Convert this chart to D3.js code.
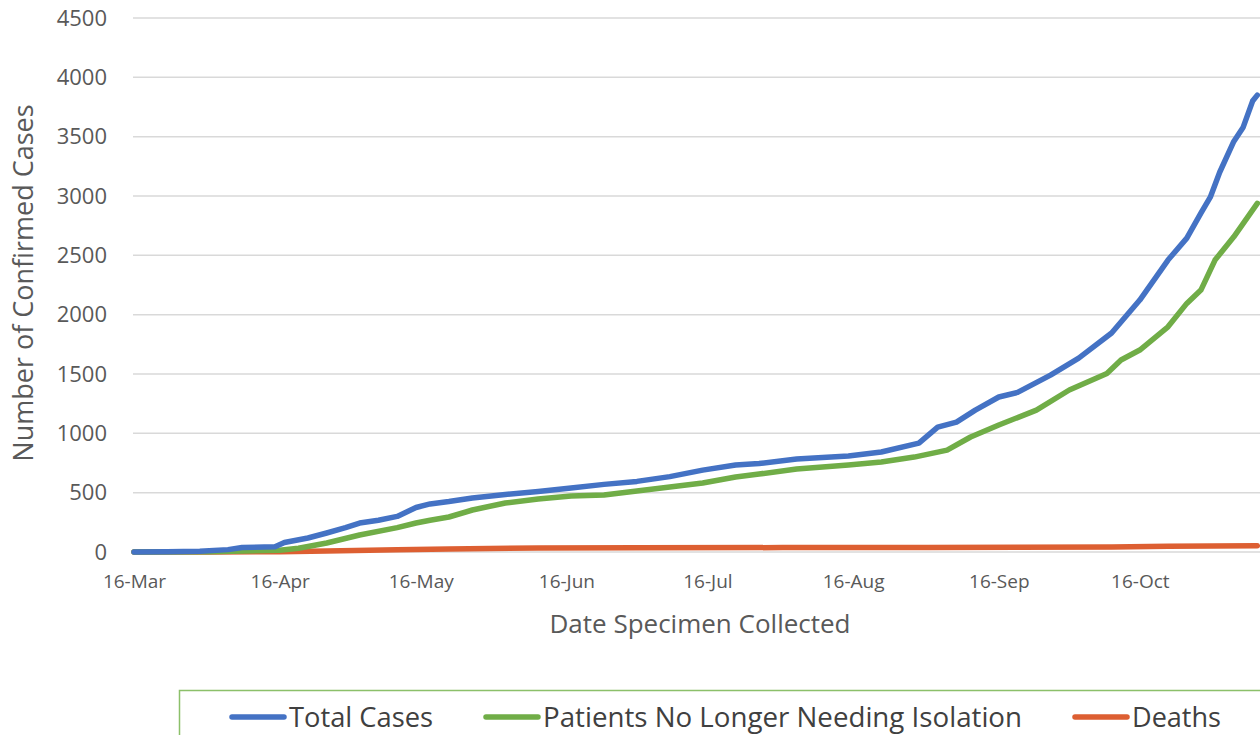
<!DOCTYPE html>
<html lang="en">
  <head>
    <meta charset="UTF-8" />
    <title>Confirmed Cases</title>
    <style>
      body { margin: 0; background: #fff; }
      svg { display: block; overflow: hidden; }
      text { font-family: "Open Sans", "Noto Sans", sans-serif; fill: #595959; }
      .grid line { stroke: #d9d9d9; stroke-width: 1.5px; }
      .series { fill: none; stroke-width: 5.5px; stroke-linejoin: round; stroke-linecap: round; }
    </style>
  </head>
  <body>
    <svg></svg>
    <script src="https://cdnjs.cloudflare.com/ajax/libs/d3/7.8.5/d3.min.js"></script>
    <script>
      // values
      const totalDates = ["2020-03-16","2020-03-23","2020-03-30","2020-04-05","2020-04-08","2020-04-15","2020-04-17","2020-04-22","2020-04-26","2020-04-30","2020-05-03","2020-05-07","2020-05-11","2020-05-15","2020-05-18","2020-05-22","2020-05-27","2020-06-03","2020-06-10","2020-06-17","2020-06-24","2020-07-01","2020-07-08","2020-07-15","2020-07-22","2020-07-27","2020-08-04","2020-08-15","2020-08-22","2020-08-30","2020-09-03","2020-09-07","2020-09-11","2020-09-16","2020-09-20","2020-09-27","2020-10-03","2020-10-10","2020-10-16","2020-10-22","2020-10-26","2020-10-29","2020-10-31","2020-11-02","2020-11-05","2020-11-07","2020-11-09","2020-11-10"];
      const totalCases = [0,2,6,20,38,45,80,118,160,205,244,268,300,375,405,425,455,485,510,540,570,595,635,690,733,745,783,809,843,918,1053,1095,1196,1306,1345,1491,1634,1845,2123,2460,2645,2856,2990,3200,3460,3580,3800,3850];

      const releasedDates = ["2020-03-16","2020-04-01","2020-04-16","2020-04-20","2020-04-26","2020-05-03","2020-05-11","2020-05-15","2020-05-18","2020-05-22","2020-05-27","2020-06-03","2020-06-10","2020-06-17","2020-06-24","2020-07-01","2020-07-08","2020-07-15","2020-07-22","2020-07-27","2020-08-04","2020-08-15","2020-08-22","2020-08-29","2020-09-05","2020-09-10","2020-09-16","2020-09-24","2020-10-01","2020-10-09","2020-10-12","2020-10-16","2020-10-22","2020-10-26","2020-10-29","2020-11-01","2020-11-05","2020-11-10"];
      const releasedCases = [0,2,15,32,76,143,205,244,268,295,354,413,447,472,480,514,548,581,632,657,699,733,758,800,859,969,1070,1196,1365,1505,1618,1702,1898,2095,2207,2460,2656,2938];

      const deathDates = ["2020-03-16","2020-04-01","2020-04-16","2020-04-26","2020-05-11","2020-05-22","2020-06-10","2020-07-01","2020-08-01","2020-09-01","2020-09-20","2020-10-10","2020-10-22","2020-11-10"];
      const deaths = [0,1,3,8,20,26,34,36,37,37,40,43,48,52];

      const yTicks = [0,500,1000,1500,2000,2500,3000,3500,4000,4500];
      const xTicks = ["2020-03-16","2020-04-16","2020-05-16","2020-06-16","2020-07-16","2020-08-16","2020-09-16","2020-10-16"];
      const legendNames = ["Total Cases","Patients No Longer Needing Isolation","Deaths"];
      const colors = ["#4472c4","#70ad47","#dd5f32"];

      const parse = d3.timeParse("%Y-%m-%d");
      const W = 1260, H = 735;
      const svg = d3.select("svg").attr("width", W).attr("height", H);

      // plot is wider than the window, the right side is cut off like the picture
      const start = parse("2020-03-16"), end = parse("2020-11-16");
      const x = d3.scaleTime().domain([start, end]).range([134, 134 + 4.7 * 245]);
      const y = d3.scaleLinear().domain([0, 4500]).range([552, 18]);

      svg.append("g")
        .attr("class", "grid")
        .selectAll("line")
        .data(yTicks)
        .join("line")
        .attr("x1", 133).attr("x2", 1300)
        .attr("y1", d => y(d)).attr("y2", d => y(d));

      const yAxis = svg.append("g")
        .attr("transform", "translate(133,0)")
        .call(d3.axisLeft(y).tickValues(yTicks).tickFormat(d3.format("d")).tickSize(0).tickPadding(26));
      yAxis.select(".domain").remove();
      yAxis.selectAll("text").style("font-size", "22px").style("fill", "#595959");

      const xAxis = svg.append("g")
        .attr("transform", "translate(0,552)")
        .call(d3.axisBottom(x).tickValues(xTicks.map(parse)).tickFormat(d3.timeFormat("%d-%b")).tickSize(0).tickPadding(23));
      xAxis.select(".domain").remove();
      xAxis.selectAll("text").style("font-size", "19px").style("fill", "#595959");

      svg.append("text")
        .attr("transform", "translate(33,283) rotate(-90)")
        .attr("text-anchor", "middle")
        .style("font-size", "27px")
        .text("Number of Confirmed Cases");

      svg.append("text")
        .attr("x", 700).attr("y", 633)
        .attr("text-anchor", "middle")
        .style("font-size", "26px")
        .text("Date Specimen Collected");

      const series = [
        { dates: deathDates, values: deaths, color: colors[2] },
        { dates: releasedDates, values: releasedCases, color: colors[1] },
        { dates: totalDates, values: totalCases, color: colors[0] }
      ];
      const line = d3.line().x(d => x(d[0])).y(d => y(d[1]));
      series.forEach(s => {
        const pts = s.dates.map((d, i) => [parse(d), s.values[i]]);
        svg.append("path").attr("class", "series").attr("stroke", s.color).attr("d", line(pts));
      });

      // legend
      const lg = svg.append("g");
      lg.append("rect")
        .attr("x", 179.5).attr("y", 690.5).attr("width", 1200).attr("height", 100)
        .attr("fill", "none").attr("stroke", "#8cc06a").attr("stroke-width", 1.5);
      const legendX = [229, 483, 1072];
      const legendW = [144, 479, 89];
      legendNames.forEach((name, i) => {
        lg.append("line")
          .attr("x1", legendX[i] + 3).attr("x2", legendX[i] + 55)
          .attr("y1", 717).attr("y2", 717)
          .attr("stroke", colors[i]).attr("stroke-width", 5.5).attr("stroke-linecap", "round");
        lg.append("text")
          .attr("x", legendX[i] + 60).attr("y", 727)
          .attr("textLength", legendW[i]).attr("lengthAdjust", "spacingAndGlyphs")
          .style("font-size", "27px").style("fill", "#404040")
          .text(name);
      });
    </script>
  </body>
</html>
